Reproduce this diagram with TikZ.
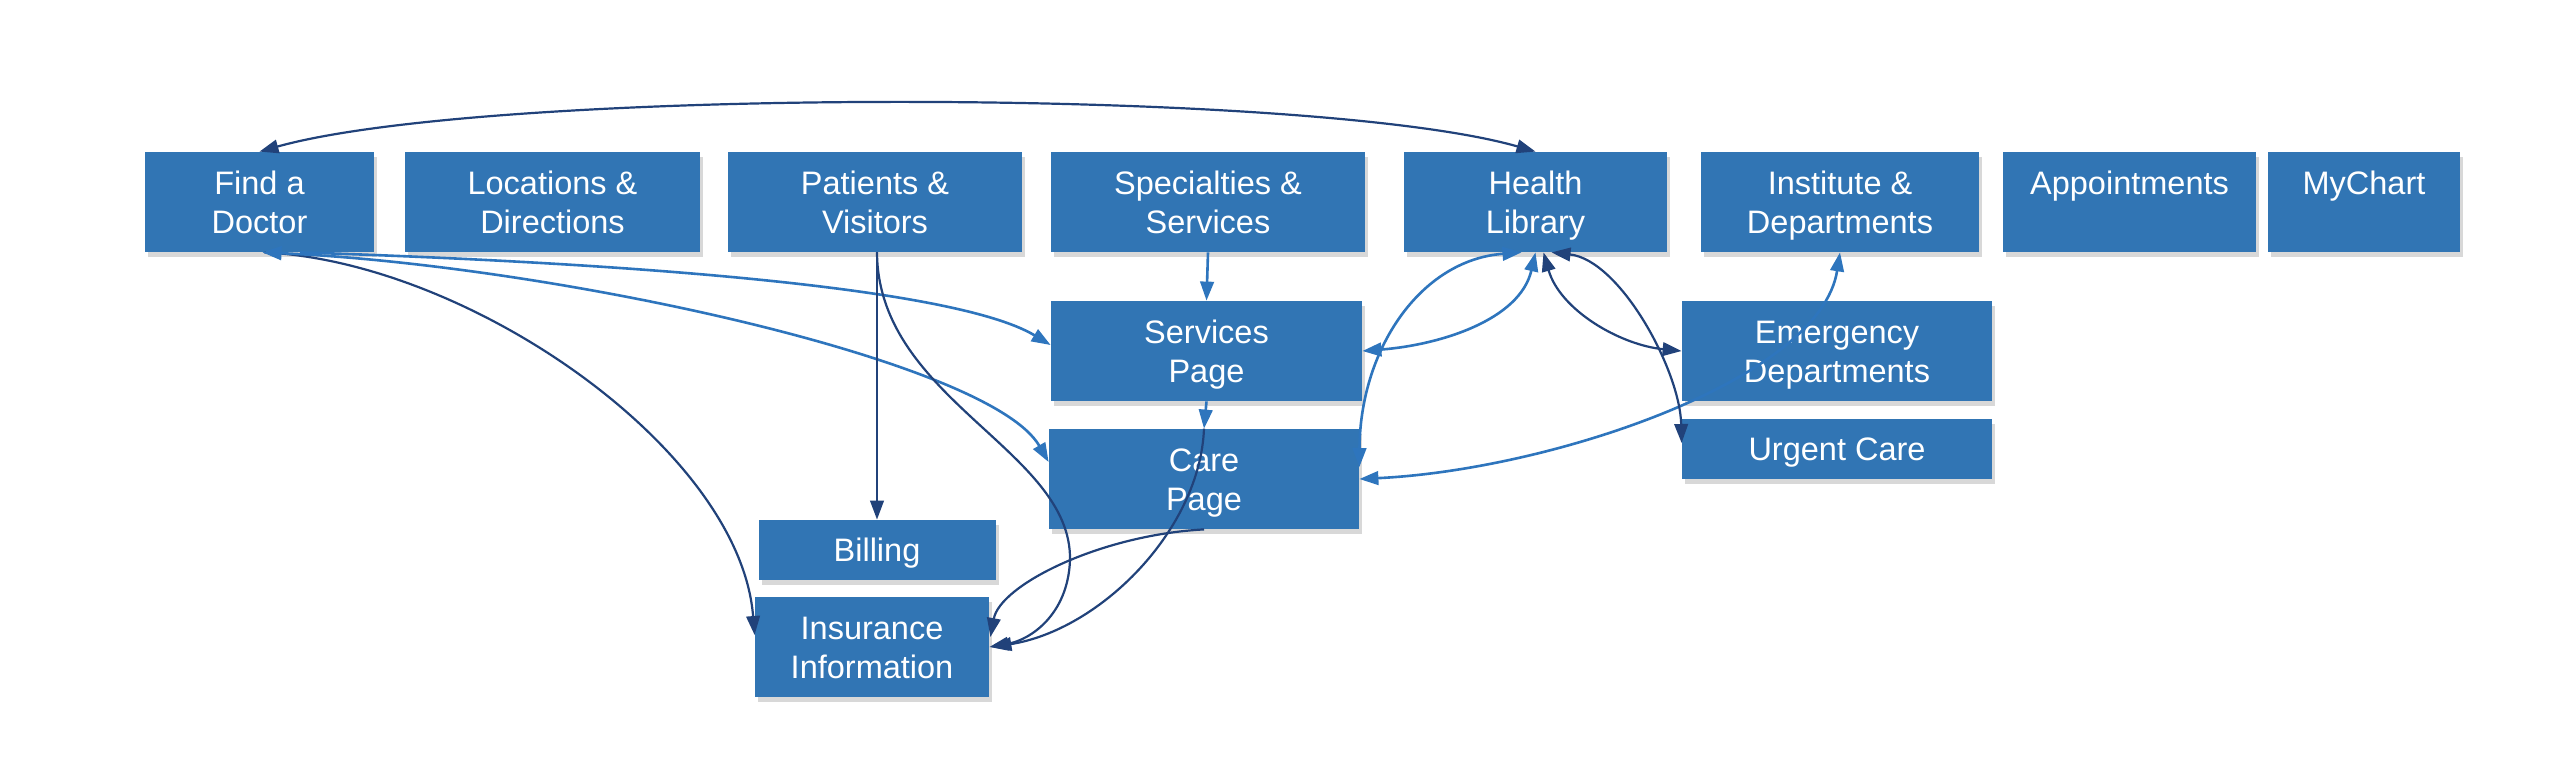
\documentclass[tikz,border=0pt]{standalone}
\usepackage{fontspec}
\setmainfont{Liberation Sans}
\usetikzlibrary{arrows.meta,shadows,calc}
\definecolor{boxblue}{RGB}{49,117,180}
\definecolor{lineblue}{RGB}{46,117,189}
\definecolor{navy}{RGB}{33,66,122}
\begin{document}
\begin{tikzpicture}[x=0.5pt,y=-0.5pt,
  mytip/.tip={Triangle[length=9.5pt,width=6.8pt]},
  box/.style={fill=boxblue, text=white, align=center, inner sep=0pt,
    font=\fontsize{16.25}{19.5}\selectfont, text height=31.2pt, text depth=0pt,
    drop shadow={shadow xshift=1.5pt,shadow yshift=-2.5pt,opacity=0.3}},
  oneline/.style={text height=11.7pt, text depth=0pt},
  topline/.style={text height=11.7pt, text depth=19.5pt},
  dk/.style={draw=navy, line width=1.1pt, -mytip},
  dkb/.style={draw=navy, line width=1.1pt, mytip-mytip},
  lt/.style={draw=lineblue, line width=1.3pt, -mytip},
  ltb/.style={draw=lineblue, line width=1.3pt, mytip-mytip},
]
\useasboundingbox[fill=white] (0,0) rectangle (2560,776);

% top row
\node[box, minimum width=114.5pt, minimum height=50pt] (fad)  at (259.5,202) {Find a\\Doctor};
\node[box, minimum width=147.5pt, minimum height=50pt] (loc)  at (552.5,202) {Locations \&\\Directions};
\node[box, minimum width=147pt,   minimum height=50pt] (pat)  at (875,202)   {Patients \&\\Visitors};
\node[box, minimum width=157pt,   minimum height=50pt] (spec) at (1208,202)  {Specialties \&\\Services};
\node[box, minimum width=131.5pt, minimum height=50pt] (hl)   at (1535.5,202){Health\\Library};
\node[box, minimum width=139pt,   minimum height=50pt] (inst) at (1840,202)  {Institute \&\\Departments};
\node[box, topline, minimum width=126.5pt, minimum height=50pt] (appt) at (2129.5,202){Appointments};
\node[box, topline, minimum width=96pt,    minimum height=50pt] (myc)  at (2364,202)  {MyChart};

% second level
\node[box, minimum width=155.5pt, minimum height=50pt] (serv) at (1206.5,351) {Services\\Page};
\node[box, minimum width=155pt,   minimum height=50pt] (care) at (1204,479)   {Care\\Page};
\node[box, minimum width=155pt,   minimum height=50pt] (ed)   at (1837,351)   {Emergency\\Departments};
\node[box, oneline, minimum width=155pt, minimum height=30pt] (uc)   at (1837,449) {Urgent Care};
\node[box, oneline, minimum width=118.5pt, minimum height=30pt] (bill) at (877,550) {Billing};
\node[box, minimum width=117pt,   minimum height=50pt] (ins)  at (872,647)    {Insurance\\Information};

% connectors
\draw[dkb] (fad.north) .. controls (490,87) and (1310,87) .. (hl.north);

\draw[dk] ($(fad.south)+(5,0)$) .. controls (470,262) and (740,450) .. ($(ins.west)+(0,-12)$);
\draw[lt] ($(fad.south)+(40.5,0)$) .. controls (600,262) and (951,285) .. ($(serv.west)+(0,-6)$);
\draw[ltb] ($(fad.south)+(3,0)$) .. controls (550,265) and (990,360) .. ($(care.west)+(0,-17)$);

\draw[dk] (bill.north |- pat.south) -- (bill.north);
\draw[dk] ($(pat.south)+(2,0)$) .. controls (878,400) and (1072,450) .. (1070,560)
          .. controls (1068,615) and (1030,640) .. (ins.east);
\draw[dk] (care.south) .. controls (1100,535) and (1000,585) .. ($(ins.east)+(1,-10)$);
\draw[dk] (care.north) .. controls (1200,530) and (1100,630) .. ($(ins.east)+(3,0)$);

\draw[lt] (serv.south) -- (care.north);
\draw[lt] (spec.south) -- (serv.north);

\draw[ltb] (hl.south) .. controls (1520,320) and (1440,345) .. (serv.east);
\draw[ltb] ($(hl.south)+(-14,0)$) .. controls (1420,260) and (1360,350) .. ($(care.east)+(0,-12)$);
\draw[ltb] (care.east) .. controls (1550,470) and (1820,380) .. (inst.south);

\draw[dkb] ($(hl.south)+(8,0)$) .. controls (1560,310) and (1620,345) .. (ed.west);
\draw[dkb] ($(hl.south)+(16,0)$) .. controls (1620,260) and (1680,370) .. ($(uc.west)+(0,-6)$);
\end{tikzpicture}
\end{document}
